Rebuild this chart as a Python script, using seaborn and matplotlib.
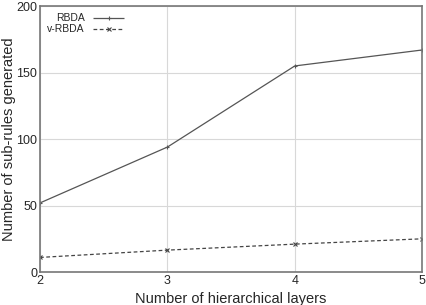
import matplotlib
matplotlib.use('Agg')
import matplotlib.pyplot as plt
import seaborn as sns
import pandas as pd

# Values
layers = [2, 3, 4, 5]
rbda = [52, 94, 155, 167]
v_rbda = [11, 16.5, 21, 25]

df = pd.DataFrame({
    'layers': layers * 2,
    'rules': rbda + v_rbda,
    'method': ['RBDA'] * 4 + ['v-RBDA'] * 4,
})

sns.set_style('white')
plt.rcParams['font.family'] = ['Liberation Sans', 'DejaVu Sans']

fig = plt.figure(figsize=(4.26, 3.05), dpi=100)
ax = fig.add_axes([0.094, 0.108, 0.897, 0.872])

sns.lineplot(data=df, x='layers', y='rules', hue='method', style='method',
             palette={'RBDA': '#555555', 'v-RBDA': '#444444'},
             dashes={'RBDA': (1, 0), 'v-RBDA': (3, 2)},
             markers={'RBDA': '+', 'v-RBDA': 'x'},
             markersize=3, linewidth=0.9, ax=ax)
for line in ax.lines:
    line.set_markeredgecolor(line.get_color())
    line.set_markeredgewidth(0.8)

ax.set_xlim(2, 5)
ax.set_ylim(0, 200)
ax.set_xticks(layers)
ax.set_yticks([0, 50, 100, 150, 200])
ax.grid(True, color='#d8d8d8', linewidth=0.8)
for s in ax.spines.values():
    s.set_color('#777777')
    s.set_linewidth(1.2)
ax.tick_params(labelsize=9, length=3, pad=2, direction='in', color='#777777')
ax.set_xlabel('Number of hierarchical layers', fontsize=10.5)
ax.set_ylabel('Number of sub-rules generated', fontsize=10.5)
ax.xaxis.set_label_coords(0.5, -0.076)
ax.yaxis.set_label_coords(-0.064, 0.5)

leg = ax.legend(loc='upper left', markerfirst=False, frameon=False, fontsize=7.5,
                handlelength=3, borderaxespad=0.3, labelspacing=0.1)
for h in leg.legend_handles:
    h.set_markeredgecolor(h.get_color())

fig.savefig('out.png', dpi=100)
